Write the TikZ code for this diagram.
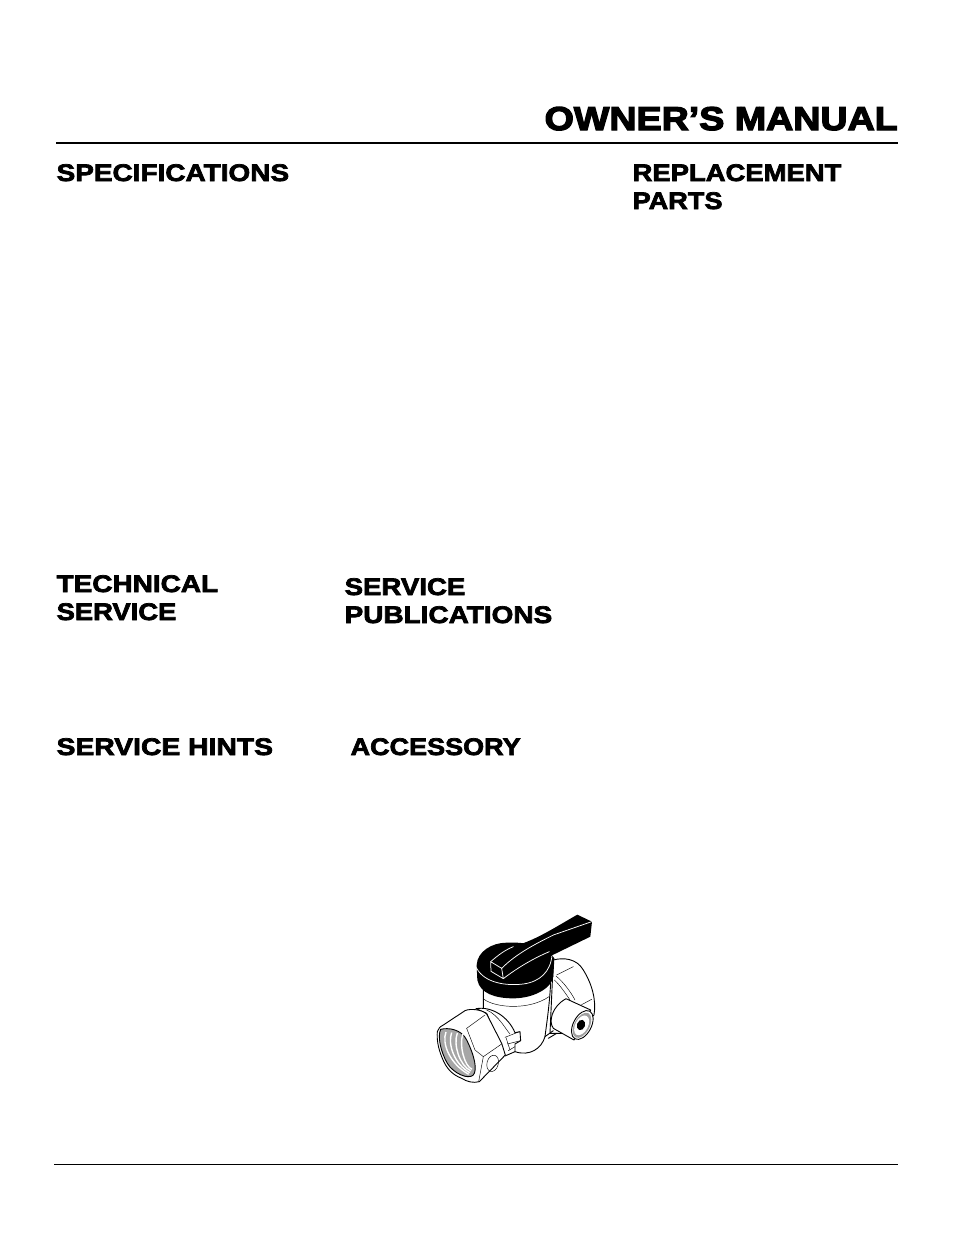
\documentclass[tikz,border=0pt]{standalone}
\usepackage{graphicx}
\usepackage{fontspec}
\newfontfamily\hdfont[FakeStretch=1.165,FakeBold=3]{Liberation Sans Bold}
\newfontfamily\ttlfont[FakeStretch=1.14,FakeBold=4]{Liberation Sans Bold}
\tikzset{
  head/.style={anchor=base west,inner sep=0pt,font=\hdfont\fontsize{24}{24}\selectfont},
  title/.style={anchor=base east,inner sep=0pt,font=\ttlfont\fontsize{33}{33}\selectfont},
  vl/.style={line width=0.9pt,line join=round,line cap=round,black},
  vt/.style={line width=0.45pt,line join=round,line cap=round,black},
  wl/.style={line width=0.75pt,line join=round,line cap=round,white},
  vf/.style={vl,fill=white}
}
\begin{document}
\begin{tikzpicture}[x=1pt,y=-1pt]
\useasboundingbox (0,0) rectangle (954,1235);
\fill[white] (0,0) rectangle (954,1235);
\node[title] (t0) at (898,130) {OWNER’S MANUAL};
\coordinate (r1a) at (56,143); \coordinate (r1b) at (898,143);
\draw[line width=2pt] (r1a) -- (r1b);
\coordinate (r2a) at (54,1164); \coordinate (r2b) at (898,1164);
\draw[line width=1pt] (r2a) -- (r2b);
\node[head] (h1) at (56.4,181) {SPECIFICATIONS};
\node[head] (h2) at (632.4,181) {\scalebox{0.981}[1]{REPLACEMENT}};
\node[head] (h3) at (632.4,209) {\scalebox{0.97}[1]{PARTS}};
\node[head] (h4) at (56.4,592) {TECHNICAL};
\node[head] (h5) at (56.4,620) {\scalebox{0.98}[1]{SERVICE}};
\node[head] (h6) at (344.4,595) {\scalebox{0.988}[1]{SERVICE}};
\node[head] (h7) at (344.4,623) {PUBLICATIONS};
\node[head] (h8) at (56.4,755) {\scalebox{1.012}[1]{SERVICE HINTS}};
\node[head] (h9) at (350.4,755) {\scalebox{0.966}[1]{ACCESSORY}};
\begin{scope}[shift={(420,900)},x=0.3333pt,y=-0.3333pt]
 % back nut
 \draw[vf] (400,180) .. controls (430,172) and (470,175) .. (490,210) .. controls (515,250) and (530,300) .. (522,345) -- (470,400) -- (390,400) -- cycle;
 \draw[vt] (410,225) -- (460,200);
 \draw[vt] (408,228) .. controls (430,245) and (455,280) .. (465,300);
 \draw[vt] (403,240) .. controls (420,255) and (440,285) .. (450,300);
 \draw[vt] (515,298) -- (485,314);
 % body
 \draw[vf] (190,270) -- (190,325) -- (285,455) .. controls (330,470) and (365,445) .. (375,410) .. controls (380,370) and (388,320) .. (392,250) -- cycle;
 \draw[vt] (192,298) .. controls (230,325) and (330,330) .. (387,290);
 \draw[vl] (375,410) -- (400,392);
 \draw[vl] (385,415) -- (410,400);
 % side port
 \draw[vf] (438,296) -- (512,330) -- (462,420) -- (400,385) .. controls (385,365) and (395,320) .. (438,296);
 \draw[vf,rotate around={-28:(487,375)}] (487,375) ellipse (27 and 47);
 \fill[gray!75,rotate around={-28:(486,376)}] (486,376) ellipse (23 and 41);
 \fill[white,rotate around={-28:(485,376)}] (485,376) ellipse (19 and 32);
 \fill[black,rotate around={-20:(483,375)}] (483,375) ellipse (12 and 16);
 % collar and tab
 \draw[vf] (168,326) .. controls (215,318) and (265,350) .. (285,398) -- (300,395) -- (302,422) -- (285,432) -- (285,455) -- (255,468) -- (200,340) -- cycle;
 \draw[vt] (255,412) -- (298,395);
 \draw[vt] (262,432) -- (302,422);
 \draw[vt] (265,452) -- (285,440);
 \draw[vt] (200,330) .. controls (235,345) and (255,385) .. (270,402);
 \draw[vt] (258,413) -- (270,450);
 % hex nut
 \draw[vf] (52,395) .. controls (55,385) and (60,380) .. (70,375) -- (135,332) .. controls (150,325) and (185,328) .. (200,342) -- (245,430) -- (256,465) -- (178,545) .. controls (160,550) and (140,545) .. (125,535) .. controls (100,525) and (80,510) .. (65,470) .. controls (55,445) and (50,420) .. (52,395) -- cycle;
 \draw[vt] (140,385) -- (195,345);
 \draw[vt] (140,385) -- (165,450) -- (190,470) -- (176,545);
 \draw[vt] (190,470) -- (245,432);
 \draw[vt,rotate around={-15:(218,490)}] (218,490) ellipse (17 and 25);
 % opening and threads
 \draw[vl,fill=gray!70] (62,388) .. controls (85,382) and (125,388) .. (140,420) .. controls (165,470) and (172,510) .. (160,525) .. controls (145,540) and (100,520) .. (82,490) .. controls (62,455) and (52,410) .. (62,388) -- cycle;
 \foreach \d in {0,17,34,51}{
  \draw[white,line width=1.4pt] (78+\d,396+\d*0.1) .. controls (65+\d,430+\d*0.1) and (88+\d*0.9,490+\d*0.2) .. (146+\d*0.2,523-\d*0.3);
 }
 % cap
 \fill[black] (170,195) .. controls (172,155) and (215,128) .. (260,128) .. controls (320,125) and (385,140) .. (403,175) -- (400,230) .. controls (395,265) and (340,295) .. (280,295) .. controls (225,295) and (180,280) .. (172,240) -- cycle;
 \draw[wl] (170,205) .. controls (195,250) and (260,258) .. (310,252) .. controls (360,245) and (392,215) .. (396,165);
 % lever
 \fill[black] (212,185) -- (275,140) .. controls (340,125) and (400,85) .. (472,44) -- (516,65) -- (511,110) -- (398,165) -- (330,210) -- (250,238) -- (212,214) -- cycle;
 \draw[wl] (212,185) -- (245,205) -- (250,236) -- (213,214) -- cycle;
 \draw[wl] (212,185) .. controls (235,165) and (255,150) .. (280,140);
 \draw[wl] (245,205) .. controls (290,160) and (350,130) .. (400,105) -- (515,65);
 \draw[wl] (250,236) .. controls (290,205) and (340,175) .. (388,155);
\end{scope}
\end{tikzpicture}
\end{document}
